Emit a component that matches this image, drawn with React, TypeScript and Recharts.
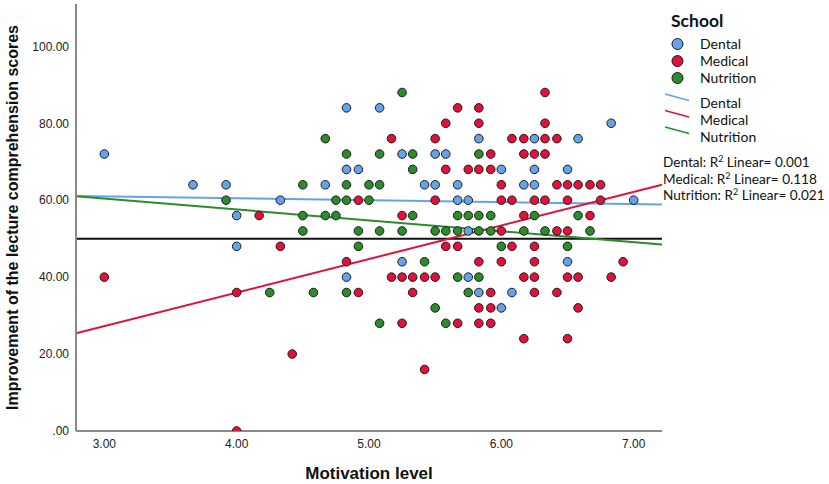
import { ComposedChart, Scatter, XAxis, YAxis, ReferenceLine } from 'recharts';

// Motivation level (x) vs improvement score (y), one list per school
const dental: [number, number][] = [
  [3.0, 72], [3.67, 64], [3.92, 64], [4.0, 56], [4.0, 48], [4.33, 60], [4.67, 64],
  [4.83, 84], [4.83, 68], [4.83, 40], [4.92, 68], [5.08, 84], [5.25, 72], [5.25, 44],
  [5.42, 64], [5.5, 72], [5.5, 64], [5.58, 72], [5.67, 64], [5.67, 60], [5.75, 60],
  [5.75, 52], [5.75, 40], [5.83, 76], [5.83, 36], [6.0, 68], [6.0, 32], [6.08, 36],
  [6.17, 64], [6.25, 76], [6.25, 68], [6.25, 64], [6.5, 68], [6.5, 44], [6.58, 76],
  [6.83, 80], [7.0, 60],
];

const medical: [number, number][] = [
  [3.0, 40], [4.0, 36], [4.0, 0], [4.17, 56], [4.33, 48], [4.42, 20], [4.83, 44],
  [4.92, 60], [4.92, 36], [5.17, 76], [5.17, 40], [5.25, 56], [5.25, 40], [5.25, 28],
  [5.33, 40], [5.33, 36], [5.42, 40], [5.42, 16], [5.5, 76], [5.5, 60], [5.5, 40],
  [5.58, 80], [5.58, 68], [5.58, 48], [5.67, 84], [5.67, 48], [5.67, 28], [5.75, 68],
  [5.83, 84], [5.83, 80], [5.83, 68], [5.83, 44], [5.83, 32], [5.83, 28],
  [5.92, 72], [5.92, 68], [5.92, 36], [5.92, 32], [5.92, 28],
  [6.0, 64], [6.0, 60], [6.0, 52], [6.0, 44], [6.08, 76], [6.08, 60], [6.08, 48],
  [6.17, 76], [6.17, 72], [6.17, 56], [6.17, 40], [6.17, 24],
  [6.25, 72], [6.25, 60], [6.25, 48], [6.25, 44], [6.25, 40], [6.25, 36],
  [6.33, 88], [6.33, 80], [6.33, 76], [6.33, 72], [6.33, 60],
  [6.42, 76], [6.42, 64], [6.42, 52], [6.42, 36],
  [6.5, 64], [6.5, 60], [6.5, 52], [6.5, 40], [6.5, 24],
  [6.58, 64], [6.58, 40], [6.58, 32], [6.67, 64], [6.67, 56], [6.75, 64], [6.75, 60],
  [6.83, 40], [6.92, 44],
];

const nutrition: [number, number][] = [
  [3.92, 60], [4.25, 36], [4.5, 64], [4.5, 56], [4.5, 52], [4.58, 36], [4.67, 76],
  [4.67, 56], [4.75, 60], [4.75, 56], [4.83, 72], [4.83, 64], [4.83, 60], [4.83, 36],
  [4.92, 52], [4.92, 48], [5.0, 64], [5.0, 60], [5.08, 72], [5.08, 64], [5.08, 52],
  [5.08, 28], [5.25, 88], [5.25, 52], [5.33, 72], [5.33, 68], [5.33, 56], [5.42, 44],
  [5.5, 52], [5.5, 32], [5.58, 52], [5.58, 28], [5.67, 56], [5.67, 52], [5.67, 40],
  [5.75, 56], [5.75, 36], [5.83, 72], [5.83, 56], [5.83, 52], [5.83, 40],
  [5.92, 56], [5.92, 52], [6.0, 48], [6.17, 52], [6.25, 56], [6.33, 52], [6.5, 48],
  [6.58, 56], [6.67, 52],
];

// fit line end values (at the x-domain edges)
const xDomain: [number, number] = [2.786, 7.214];
const fitDental = [61.1, 58.9];
const fitMedical = [25.4, 64.0];
const fitNutrition = [61.0, 48.5];

const xTicks = [3, 4, 5, 6, 7];
const yTicks = [0, 20, 40, 60, 80, 100];

const rSquared = [
  { school: 'Dental', value: '0.001' },
  { school: 'Medical', value: '0.118' },
  { school: 'Nutrition', value: '0.021' },
];

const BLUE = '#64a3ea';
const RED = '#e3103a';
const GREEN = '#2a8c2a';

const toPts = (a: [number, number][]) => a.map(([x, y]) => ({ x, y }));

const dot = (color: string) => (props: any) => (
  <circle cx={props.cx} cy={props.cy} r={4.3} fill={color} stroke="#1c1c1c" strokeWidth={1} />
);

const axisFont = 'Liberation Sans, Arial, sans-serif';
const legendFont = 'Lato, Noto Sans, sans-serif';

export default function App() {
  const schools = [
    { name: 'Dental', color: BLUE },
    { name: 'Medical', color: RED },
    { name: 'Nutrition', color: GREEN },
  ];
  return (
    <div style={{ position: 'relative', width: 829, height: 484, background: '#fff' }}>
      <style>{'body{margin:0}'}</style>
      <ComposedChart width={829} height={484} margin={{ top: 4, right: 167, bottom: 0, left: 0 }}>
        <defs>
          <clipPath id="plotClip">
            <rect x={76} y={0} width={590} height={431} />
          </clipPath>
        </defs>
        <XAxis
          type="number"
          dataKey="x"
          domain={xDomain}
          ticks={xTicks}
          allowDataOverflow
          height={53}
          tickLine={false}
          axisLine={{ stroke: '#8a8a8a', strokeWidth: 2 }}
          tick={{ fill: '#222', fontSize: 12, fontFamily: axisFont }}
          tickFormatter={(v: number) => v.toFixed(2)}
          label={{
            content: () => (
              <text x={369} y={479} textAnchor="middle" fontFamily={axisFont} fontWeight="bold" fontSize={17} fill="#111">
                Motivation level
              </text>
            ),
          }}
        />
        <YAxis
          type="number"
          dataKey="y"
          domain={[0, 111]}
          ticks={yTicks}
          allowDataOverflow
          width={76}
          tickLine={false}
          tickMargin={1}
          axisLine={{ stroke: '#8a8a8a', strokeWidth: 2 }}
          tick={{ fill: '#222', fontSize: 12, fontFamily: axisFont }}
          tickFormatter={(v: number) => (v === 0 ? '.00' : v.toFixed(2))}
          label={{
            content: () => (
              <text
                transform="translate(18,217.5) rotate(-90)"
                textAnchor="middle"
                fontFamily={axisFont}
                fontWeight="bold"
                fontSize={16}
                fill="#111"
              >
                Improvement of the lecture comprehension scores
              </text>
            ),
          }}
        />
        <Scatter name="Dental" data={toPts(dental)} shape={dot(BLUE)} isAnimationActive={false} clipPath="url(#plotClip)" />
        <Scatter name="Medical" data={toPts(medical)} shape={dot(RED)} isAnimationActive={false} clipPath="url(#plotClip)" />
        <Scatter name="Nutrition" data={toPts(nutrition)} shape={dot(GREEN)} isAnimationActive={false} clipPath="url(#plotClip)" />
        <ReferenceLine y={50} stroke="#111" strokeWidth={2} />
        <ReferenceLine
          ifOverflow="hidden"
          segment={[{ x: xDomain[0], y: fitDental[0] }, { x: xDomain[1], y: fitDental[1] }]}
          stroke={BLUE}
          strokeWidth={2}
        />
        <ReferenceLine
          ifOverflow="hidden"
          segment={[{ x: xDomain[0], y: fitMedical[0] }, { x: xDomain[1], y: fitMedical[1] }]}
          stroke={RED}
          strokeWidth={2}
        />
        <ReferenceLine
          ifOverflow="hidden"
          segment={[{ x: xDomain[0], y: fitNutrition[0] }, { x: xDomain[1], y: fitNutrition[1] }]}
          stroke={GREEN}
          strokeWidth={2}
        />
      </ComposedChart>
      <svg
        width={829}
        height={484}
        style={{ position: 'absolute', left: 0, top: 0, pointerEvents: 'none' }}
        fontFamily={legendFont}
      >
        <text x={671} y={20} dominantBaseline="central" fontWeight="bold" fontSize={17.5} fill="#111">
          School
        </text>
        {schools.map((s, i) => (
          <g key={'c' + s.name}>
            <circle cx={677.5} cy={44 + i * 17} r={5.5} fill={s.color} stroke="#1c1c1c" strokeWidth={1} />
            <text x={700} y={43.5 + i * 17} dominantBaseline="central" fontSize={14} fill="#111">
              {s.name}
            </text>
          </g>
        ))}
        {schools.map((s, i) => (
          <g key={'l' + s.name}>
            <line x1={665} y1={94 + i * 16.5} x2={689} y2={100.5 + i * 16.5} stroke={s.color} strokeWidth={1.5} />
            <text x={700} y={102 + i * 17.3} dominantBaseline="central" fontSize={14} fill="#111">
              {s.name}
            </text>
          </g>
        ))}
        {rSquared.map((r, i) => (
          <text key={r.school} x={663} y={167 + i * 16.5} fontSize={13.6} fill="#111">
            {r.school}: R<tspan fontSize={9} dy={-5}>2</tspan>
            <tspan dy={5}> Linear= {r.value}</tspan>
          </text>
        ))}
      </svg>
    </div>
  );
}
